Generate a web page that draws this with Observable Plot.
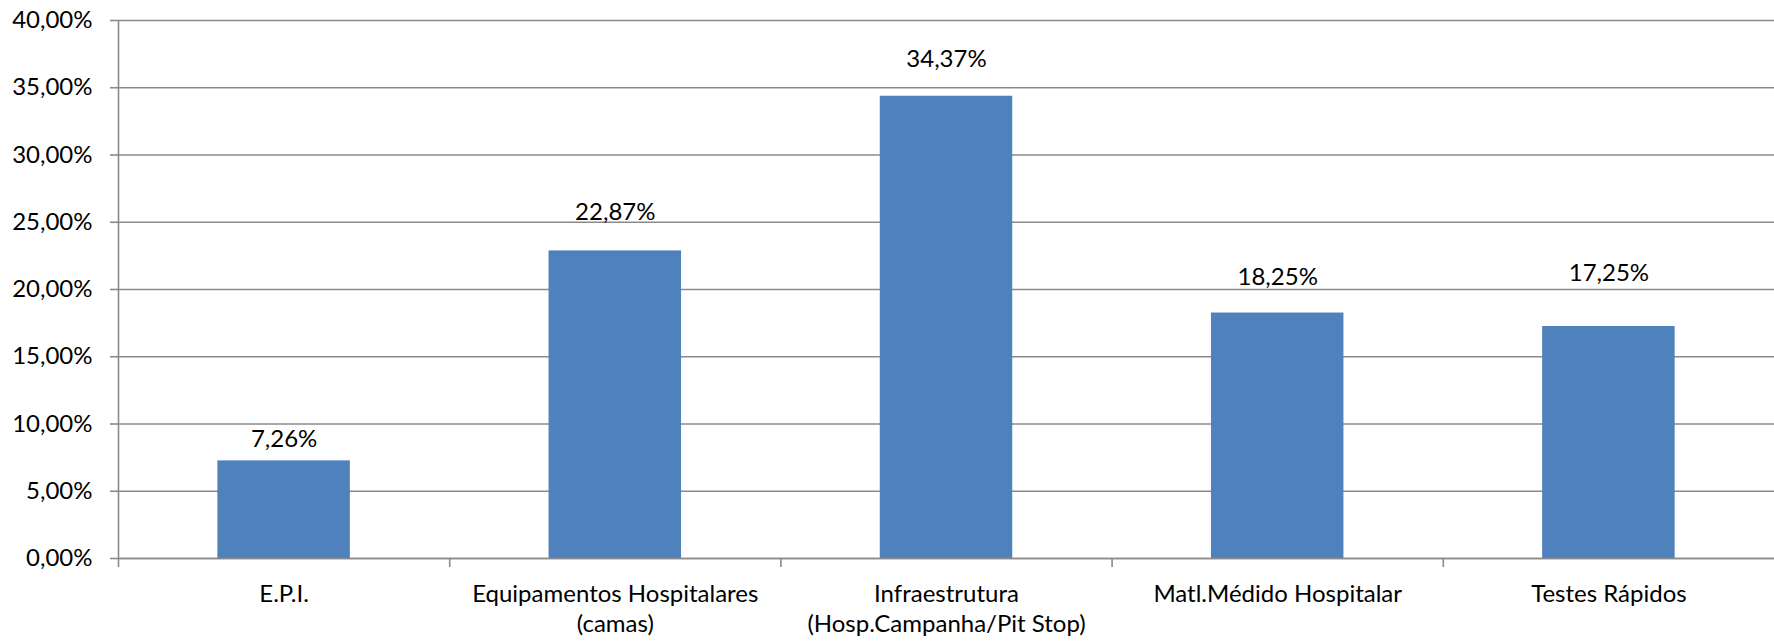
<!DOCTYPE html>
<html>
<head>
<meta charset="utf-8">
<script src="https://cdn.jsdelivr.net/npm/d3@7"></script>
<script src="https://cdn.jsdelivr.net/npm/@observablehq/plot@0.6"></script>
<style>
  html, body { margin: 0; padding: 0; background: #fff; }
  #chart svg { display: block; }
</style>
</head>
<body>
<div id="chart"></div>
<script>
// ---- data ----
const categories = [
  "E.P.I.",
  "Equipamentos Hospitalares\n(camas)",
  "Infraestrutura\n(Hosp.Campanha/Pit Stop)",
  "Matl.Médido Hospitalar",
  "Testes Rápidos"
];
const values = [7.26, 22.87, 34.37, 18.25, 17.25];
const yTicks = [0, 5, 10, 15, 20, 25, 30, 35, 40];

// ---- styling ----
const barColor = "#4F81BD";
const gridColor = "#8a8a8a";
const font = "Lato, 'Open Sans', sans-serif";
const fontSize = 24;
// label lift above bar top (px), as placed in the original chart
const labelLift = {0: 22, 1: 39, 2: 37, 3: 36, 4: 53};

const data = categories.map((c, i) => ({i, cat: c, value: values[i]}));
const fmt = v => v.toFixed(2).replace(".", ",") + "%";

const W = 1774, H = 641;

const labelMarks = data.map(d =>
  Plot.text([d], {
    x: r => r.i + 0.5,
    y: "value",
    text: r => fmt(r.value),
    dy: -labelLift[d.i],
    fill: "#000",
    fontSize
  })
);

const chart = Plot.plot({
  width: W,
  height: H,
  marginLeft: 118,
  marginRight: 0,
  marginTop: 20,
  marginBottom: 83,
  style: {fontFamily: font, fontSize: fontSize + "px", background: "#fff", color: "#000"},
  x: {type: "linear", domain: [0, categories.length], axis: null},
  y: {domain: [0, 40], axis: null},
  marks: [
    Plot.ruleY(yTicks, {stroke: gridColor, strokeWidth: 1.6}),
    Plot.axisY({ticks: yTicks, tickSize: 8, text: null, label: null, stroke: gridColor, strokeWidth: 1.6}),
    Plot.axisY({ticks: yTicks, tickSize: 0, tickPadding: 26, label: null, tickFormat: fmt, fill: "#000", fontSize}),
    Plot.axisX({ticks: d3.range(categories.length), tickSize: 9, text: null, label: null, stroke: gridColor, strokeWidth: 1.6}),
    Plot.axisX({
      ticks: categories.map((c, i) => i + 0.5),
      tickSize: 0,
      tickPadding: 22,
      label: null,
      tickFormat: v => categories[Math.floor(v)],
      fill: "#000",
      fontSize,
      lineHeight: 1.25
    }),
    Plot.rectY(data, {
      x1: d => d.i + 0.3,
      x2: d => d.i + 0.7,
      y: "value",
      fill: barColor
    }),
    Plot.ruleX([0], {stroke: gridColor, strokeWidth: 1.6}),
    Plot.ruleY([0], {stroke: gridColor, strokeWidth: 1.6}),
    ...labelMarks
  ]
});

document.getElementById("chart").appendChild(chart);
</script>
</body>
</html>
